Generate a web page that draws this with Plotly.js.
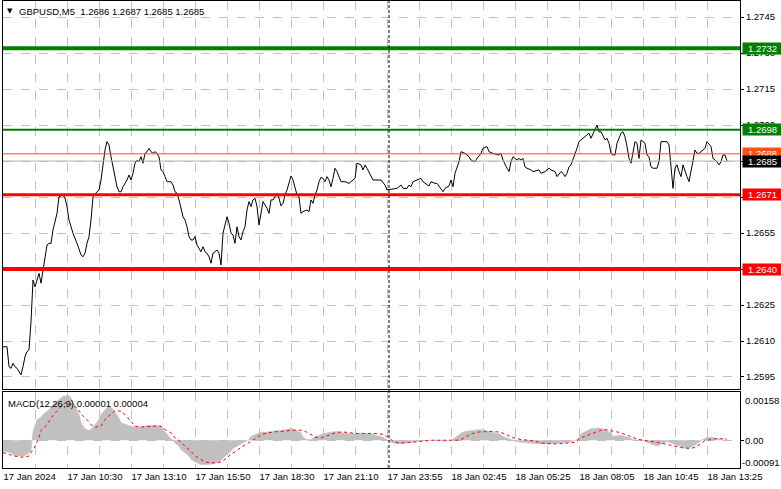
<!DOCTYPE html>
<html>
<head>
<meta charset="utf-8">
<script src="https://cdn.plot.ly/plotly-3.0.1.min.js"></script>
<style>html,body{margin:0;padding:0;background:#fff;}#chart{width:781px;height:489px;}</style>
</head>
<body>
<div id="chart"></div>
<script>
// ---- price (GBPUSD M5 closes), x = bar index ----
const priceBar = [0,2,3,4,5,6,7,8,9,10,11,12,13,14,15,16,17,18,19,20,21,22,23,24,25,27,28,30,31,32,33,34,35,37,39,40,41,42,43,44,45,47,48,49,50,51,52,53,54,55,56,57,58,59,60,62,63,64,65,66,67,68,69,70,71,72,73,74,75,76,77,78,79,80,81,82,84,85,86,87,88,89,90,91,92,93,94,95,96,97,99,100,101,102,103,104,105,106,107,108,109,110,112,113,114,115,116,117,118,119,120,121,122,123,124,125,126,127,128,130,132,133,134,135,136,137,138,139,140,141,142,143,144,145,146,147,148,149,150,152,153,154,155,156,157,158,159,160,161,162,163,164,165,166,167,169,171,173,174,176,177,179,180,181,182,184,185,187,189,191,192,193,194,197,199,200,202,203,204,205,207,209,210,213,214,216,217,219,220,221,223,224,225,226,227,228,229,231,233,234,236,237,239,240,242,243,245,248,249,250,252,253,254,255,257,258,259,260,261,262,264,265,268,269,271,273,274,276,277,279,280,281,282,283,284,286,287,288,289,291,293,294,296,297,298,299,301,302,303,304,305,306,307,309,310,311,312,313,314,315,316,317,318,319,321,322,323,324,325,327,328,329,332,333,334,335,336,337,338,339,340,341,342,343,344,345,346,347,348,349,351,352,354,355,357,358,359,360,361,362];
const priceClose = [1.26076,1.26076,1.25993,1.25986,1.26007,1.25993,1.25986,1.25972,1.25959,1.25993,1.26035,1.26056,1.26063,1.26180,1.26354,1.26326,1.26354,1.26382,1.26341,1.26389,1.26440,1.26500,1.26507,1.26507,1.26563,1.26632,1.26701,1.26709,1.26695,1.26660,1.26604,1.26576,1.26549,1.26507,1.26459,1.26451,1.26466,1.26507,1.26535,1.26604,1.26701,1.26722,1.26729,1.26771,1.26841,1.26896,1.26931,1.26917,1.26868,1.26826,1.26785,1.26743,1.26722,1.26722,1.26743,1.26771,1.26792,1.26771,1.26799,1.26841,1.26854,1.26847,1.26868,1.26841,1.26882,1.26889,1.26903,1.26889,1.26882,1.26889,1.26882,1.26868,1.26813,1.26806,1.26785,1.26764,1.26764,1.26750,1.26722,1.26716,1.26688,1.26646,1.26618,1.26604,1.26576,1.26535,1.26521,1.26521,1.26535,1.26500,1.26472,1.26493,1.26472,1.26466,1.26451,1.26424,1.26466,1.26472,1.26479,1.26466,1.26417,1.26549,1.26618,1.26591,1.26549,1.26542,1.26507,1.26576,1.26535,1.26521,1.26556,1.26576,1.26646,1.26681,1.26660,1.26688,1.26695,1.26660,1.26584,1.26681,1.26653,1.26632,1.26688,1.26688,1.26701,1.26716,1.26695,1.26663,1.26674,1.26709,1.26729,1.26764,1.26788,1.26771,1.26736,1.26709,1.26701,1.26632,1.26639,1.26646,1.26639,1.26688,1.26674,1.26709,1.26729,1.26764,1.26782,1.26778,1.26764,1.26785,1.26771,1.26743,1.26778,1.26820,1.26806,1.26764,1.26764,1.26757,1.26764,1.26778,1.26841,1.26834,1.26813,1.26834,1.26820,1.26785,1.26771,1.26771,1.26771,1.26750,1.26729,1.26732,1.26732,1.26736,1.26750,1.26736,1.26736,1.26750,1.26743,1.26764,1.26771,1.26778,1.26764,1.26746,1.26764,1.26757,1.26757,1.26736,1.26722,1.26736,1.26746,1.26771,1.26743,1.26799,1.26826,1.26847,1.26889,1.26882,1.26868,1.26854,1.26847,1.26861,1.26882,1.26903,1.26910,1.26889,1.26882,1.26875,1.26882,1.26854,1.26820,1.26806,1.26847,1.26868,1.26854,1.26861,1.26854,1.26861,1.26826,1.26820,1.26813,1.26806,1.26813,1.26799,1.26806,1.26820,1.26813,1.26806,1.26785,1.26806,1.26799,1.26785,1.26799,1.26826,1.26834,1.26875,1.26903,1.26931,1.26938,1.26951,1.26966,1.26945,1.26979,1.27000,1.26972,1.26972,1.26938,1.26945,1.26924,1.26882,1.26875,1.26875,1.26924,1.26966,1.26972,1.26951,1.26910,1.26861,1.26841,1.26889,1.26931,1.26924,1.26861,1.26938,1.26924,1.26875,1.26868,1.26826,1.26820,1.26820,1.26847,1.26931,1.26931,1.26917,1.26806,1.26736,1.26820,1.26834,1.26806,1.26785,1.26834,1.26806,1.26785,1.26764,1.26806,1.26854,1.26896,1.26882,1.26882,1.26889,1.26903,1.26931,1.26910,1.26861,1.26847,1.26834,1.26847,1.26875,1.26875,1.26850];

// ---- MACD(12,26,9) ----
const histBar = [0,4,6,10,12,14,15,16,17,19,20,22,24,25,28,30,33,34,36,38,39,41,43,44,46,48,49,51,53,54,56,58,59,62,64,67,70,74,76,79,80,82,84,85,86,88,89,91,93,94,96,98,100,103,105,108,110,112,114,115,118,120,123,124,127,129,132,135,139,142,144,147,149,150,152,154,155,158,160,164,167,170,174,177,180,184,187,190,193,195,198,201,204,208,211,214,218,221,224,227,229,231,234,238,241,244,248,251,254,256,259,263,266,269,273,276,279,283,286,288,289,292,294,298,301,304,305,308,310,313,315,318,321,324,327,329,332,334,337,339,342,344,347,349,352,354,357,359,362];
const histVal = [-0.00036,-0.00041,-0.00052,-0.00052,-0.00047,-0.00036,0.00029,0.00046,0.00068,0.00075,0.00084,0.00095,0.00106,0.00117,0.00133,0.00144,0.00147,0.00139,0.00111,0.00084,0.00057,0.00038,0.00032,0.00035,0.00051,0.00068,0.00084,0.00100,0.00111,0.00108,0.00093,0.00073,0.00057,0.00049,0.00046,0.00043,0.00046,0.00049,0.00049,0.00046,0.00035,0.00019,0.00005,0.00000,-0.00009,-0.00020,-0.00031,-0.00041,-0.00052,-0.00063,-0.00071,-0.00078,-0.00080,-0.00080,-0.00078,-0.00071,-0.00058,-0.00047,-0.00036,-0.00027,-0.00016,-0.00009,0.00002,0.00013,0.00021,0.00026,0.00027,0.00029,0.00032,0.00035,0.00040,0.00032,0.00024,0.00010,0.00002,0.00002,0.00008,0.00015,0.00021,0.00027,0.00029,0.00024,0.00021,0.00022,0.00024,0.00021,0.00015,0.00010,-0.00003,-0.00009,-0.00012,-0.00009,-0.00005,-0.00003,-0.00001,0.00000,-0.00001,-0.00003,-0.00001,0.00013,0.00024,0.00029,0.00032,0.00035,0.00033,0.00027,0.00021,0.00010,0.00002,-0.00003,-0.00007,-0.00009,-0.00011,-0.00012,-0.00012,-0.00011,-0.00009,-0.00007,-0.00001,0.00008,0.00021,0.00032,0.00038,0.00040,0.00035,0.00024,0.00013,0.00016,0.00015,0.00008,0.00002,0.00000,-0.00003,-0.00012,-0.00020,-0.00014,-0.00005,-0.00009,-0.00016,-0.00023,-0.00028,-0.00023,-0.00012,-0.00001,0.00010,0.00010,0.00005,0.00002,0.00001];
const sigBar = [0,3,6,9,13,14,16,18,19,22,24,27,29,31,33,37,39,42,44,46,49,51,54,56,59,61,64,66,69,72,75,79,81,84,86,89,91,94,96,99,101,104,107,109,112,114,117,119,122,124,127,129,132,135,139,142,145,149,151,154,156,159,161,164,167,170,174,177,184,187,190,193,195,198,201,204,208,211,214,218,221,224,227,229,232,234,238,241,244,248,251,254,257,259,263,266,269,273,276,279,283,286,289,293,296,299,301,304,308,311,314,317,320,324,327,330,334,337,340,344,346,349,351,354,356,359,362];
const sigVal = [-0.00041,-0.00047,-0.00052,-0.00056,-0.00052,-0.00041,-0.00020,0.00008,0.00032,0.00051,0.00073,0.00095,0.00111,0.00122,0.00122,0.00106,0.00086,0.00068,0.00051,0.00043,0.00046,0.00068,0.00086,0.00097,0.00095,0.00084,0.00062,0.00046,0.00043,0.00045,0.00046,0.00046,0.00035,0.00024,0.00008,-0.00005,-0.00020,-0.00036,-0.00052,-0.00063,-0.00071,-0.00074,-0.00074,-0.00071,-0.00058,-0.00045,-0.00034,-0.00023,-0.00012,-0.00003,0.00008,0.00019,0.00024,0.00027,0.00029,0.00032,0.00033,0.00033,0.00029,0.00019,0.00010,0.00008,0.00013,0.00021,0.00026,0.00027,0.00024,0.00022,0.00022,0.00022,0.00019,0.00008,-0.00003,-0.00009,-0.00009,-0.00007,-0.00003,-0.00001,0.00000,0.00000,-0.00001,0.00000,0.00000,0.00002,0.00013,0.00021,0.00027,0.00029,0.00029,0.00027,0.00021,0.00010,0.00004,0.00002,0.00000,-0.00003,-0.00009,-0.00012,-0.00012,-0.00011,-0.00009,-0.00007,0.00008,0.00019,0.00027,0.00033,0.00035,0.00032,0.00026,0.00019,0.00011,0.00004,0.00000,-0.00003,-0.00007,-0.00011,-0.00016,-0.00022,-0.00025,-0.00027,-0.00023,-0.00012,-0.00001,0.00002,0.00005,0.00005,0.00004];

// ---- axes / labels ----
const yTicks = [1.2595,1.2610,1.2625,1.2640,1.2655,1.2670,1.2685,1.2700,1.2715,1.2730,1.2745];
const yTicksHidden = [1.2640,1.2670,1.2685];   // covered by the price boxes in the original
const xLabels = ["17 Jan 2024","17 Jan 10:30","17 Jan 13:10","17 Jan 15:50","17 Jan 18:30","17 Jan 21:10","17 Jan 23:55","18 Jan 02:45","18 Jan 05:25","18 Jan 08:05","18 Jan 10:45","18 Jan 13:25"];
const xLabelBars = [0,32,64,96,128,160,192,224,256,288,320,352];
const daySeparatorBar = 193;
const levels = [1.2732, 1.2698, 1.2671, 1.2640];
const askPrice = 1.2688, bidPrice = 1.2685;
const ohlc = [1.2686, 1.2687, 1.2685, 1.2685];
const macdNow = "0.00001", signalNow = "0.00004";
const macdMax = 0.00158, macdMin = -0.00091;

// styles
const levelColors = ['#008000','#008000','#ff0000','#ff0000'];
const levelWidths = [4, 2, 3, 4];
const gridCol = '#c0c0c0';
const FONT = 'Liberation Sans, Arial, sans-serif';

// grid every 16 bars, labels every 32
const gridVals = [], gridText = [];
for (let b = 0; b <= 368; b += 16) {
  gridVals.push(b);
  const k = xLabelBars.indexOf(b);
  gridText.push(k >= 0 ? xLabels[k] : '');
}

const traces = [
  {x: priceBar, y: priceClose, xaxis:'x', yaxis:'y', type:'scatter', mode:'lines',
   line:{color:'#000', width:1}, hoverinfo:'skip'},
  {x: histBar, y: histVal, xaxis:'x2', yaxis:'y2', type:'scatter', mode:'lines',
   line:{color:'#c0c0c0', width:0.5}, fill:'tozeroy', fillcolor:'#c0c0c0', hoverinfo:'skip'},
  {x: sigBar, y: sigVal, xaxis:'x2', yaxis:'y2', type:'scatter', mode:'lines',
   line:{color:'#ff0000', width:1, dash:'3px,3px'}, hoverinfo:'skip'}
];

const shapes = [];
shapes.push({type:'line', xref:'paper', x0:0, x1:1, yref:'y', y0:askPrice, y1:askPrice, line:{color:'#ff5014', width:1}});
shapes.push({type:'line', xref:'paper', x0:0, x1:1, yref:'y', y0:bidPrice, y1:bidPrice, line:{color:'#b4b4b4', width:1}});
levels.forEach((v,i) => shapes.push({type:'line', xref:'paper', x0:0, x1:1, yref:'y', y0:v, y1:v,
  line:{color:levelColors[i], width:levelWidths[i]}}));
shapes.push({type:'line', xref:'x', x0:daySeparatorBar, x1:daySeparatorBar, yref:'paper', y0:0, y1:1,
  line:{color:'#000', width:1, dash:'3px,2px'}});

const annotations = [];
annotations.push({xref:'paper', x:0, xanchor:'left', xshift:2, yref:'paper', y:1, yanchor:'top', yshift:-4,
  text:'\u25BC', showarrow:false, font:{family:'DejaVu Sans', size:7, color:'#000'}});
annotations.push({xref:'paper', x:0, xanchor:'left', xshift:14, yref:'paper', y:1, yanchor:'top', yshift:-3,
  text:'GBPUSD,M5\u00a0\u00a0' + ohlc.map(v=>v.toFixed(4)).join(' '), showarrow:false,
  font:{family:FONT, size:9.5, color:'#000'}});
annotations.push({xref:'paper', x:0, xanchor:'left', xshift:3, yref:'y2 domain', y:1, yanchor:'top', yshift:-4,
  text:'MACD(12,26,9) ' + macdNow + ' ' + signalNow, showarrow:false,
  font:{family:FONT, size:9.5, color:'#000'}});

function priceBox(v, bg) {
  annotations.push({xref:'paper', x:1, xanchor:'left', xshift:2, yref:'y', y:v, yanchor:'middle',
    text: v.toFixed(4), showarrow:false, bgcolor:bg, width:39, height:11, borderpad:0, align:'center',
    font:{family:FONT, size:9.5, color:'#fff'}});
}
priceBox(levels[0], levelColors[0]);
priceBox(levels[1], levelColors[1]);
priceBox(askPrice, '#ff5014');
priceBox(bidPrice, '#000000');
priceBox(levels[2], levelColors[2]);
priceBox(levels[3], levelColors[3]);

// MACD scale labels (max / zero / min), drawn inside the window edges like the terminal does
[[macdMax, '0.00158', -8, 3], [0, '0.00', 0, 3], [macdMin, '-0.00091', 5, 0]].forEach(a => {
  annotations.push({xref:'paper', x:1, xanchor:'left', xshift:a[3], yref:'y2', y:a[0], yanchor:'middle', yshift:a[2],
    text:a[1], showarrow:false, font:{family:FONT, size:9.5, color:'#000'}});
});

const layout = {
  width:781, height:489,
  margin:{l:3, r:41, t:1, b:21, pad:0},
  paper_bgcolor:'#fff', plot_bgcolor:'#fff',
  showlegend:false,
  font:{family:FONT, size:9.5, color:'#000'},
  xaxis:{domain:[0,1], anchor:'y', range:[0,368.5], tickmode:'array', tickvals:gridVals, showticklabels:false,
    ticks:'', showgrid:true, gridcolor:gridCol, griddash:'dash', gridwidth:1,
    showline:true, linecolor:'#000', linewidth:1, mirror:true, zeroline:false},
  xaxis2:{domain:[0,1], anchor:'y2', matches:'x', range:[0,368.5], tickmode:'array', tickvals:gridVals, ticktext:gridText,
    ticklabelposition:'outside right', ticks:'', showgrid:true, gridcolor:gridCol, griddash:'dash', gridwidth:1,
    showline:true, linecolor:'#000', linewidth:1, mirror:true, zeroline:false, tickfont:{family:FONT, size:9.5}},
  yaxis:{domain:[0.1692,1], anchor:'x', side:'right', range:[1.2590,1.27517], tickmode:'array', tickvals:yTicks,
    ticktext:yTicks.map(v => yTicksHidden.includes(v) ? '' : v.toFixed(4)), ticks:'outside', ticklen:3, tickcolor:'#000',
    showgrid:true, gridcolor:gridCol, griddash:'dash', gridwidth:1,
    showline:true, linecolor:'#000', linewidth:1, mirror:true, zeroline:false, tickfont:{family:FONT, size:9.5}},
  yaxis2:{domain:[0,0.1627], anchor:'x2', side:'right', range:[macdMin, macdMax], tickmode:'array', tickvals:[0],
    showticklabels:false, ticks:'outside', ticklen:3, tickcolor:'#000',
    showgrid:true, gridcolor:gridCol, griddash:'dash', gridwidth:1,
    showline:true, linecolor:'#000', linewidth:1, mirror:true, zeroline:false},
  shapes: shapes,
  annotations: annotations
};

Plotly.newPlot('chart', traces, layout, {staticPlot:true, displayModeBar:false});
</script>
</body>
</html>
